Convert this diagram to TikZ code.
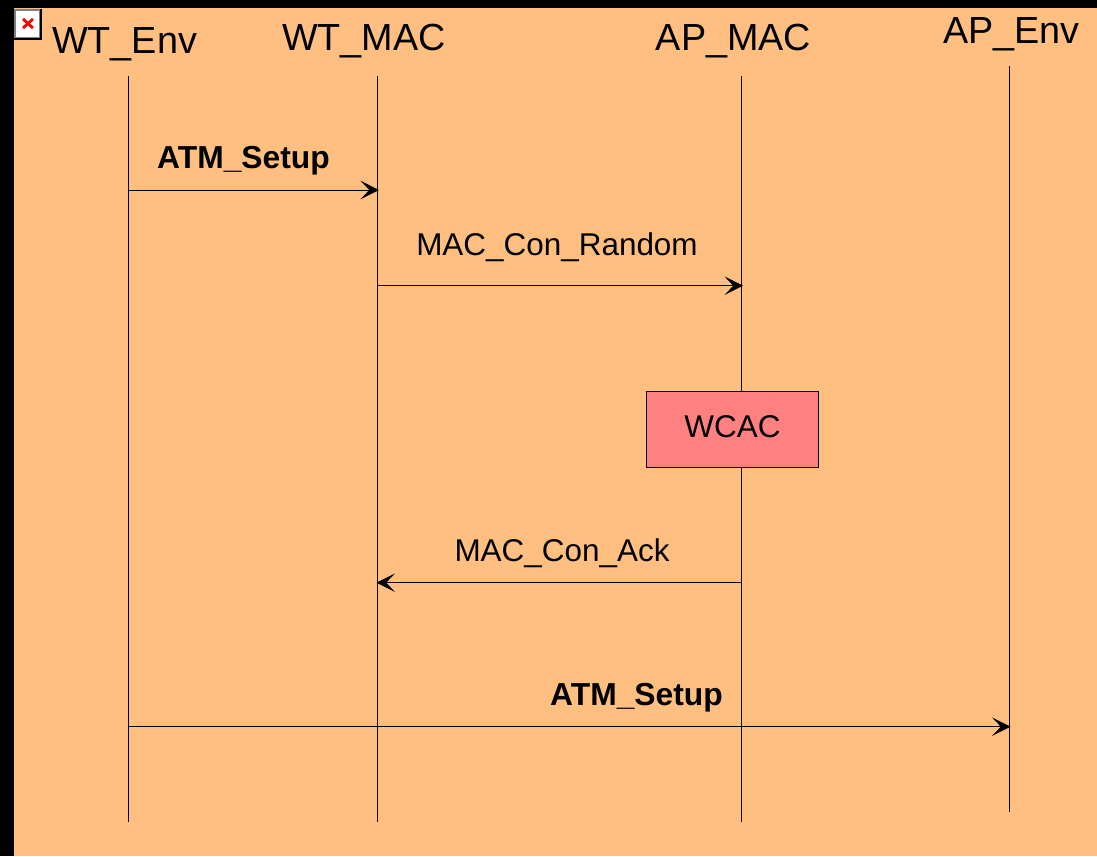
\documentclass[tikz,border=0pt]{standalone}
\usepackage{fontspec}
\setmainfont{Liberation Sans}
\usetikzlibrary{arrows.meta}
\definecolor{bgorange}{HTML}{FFBF80}
\definecolor{boxred}{HTML}{FF8080}
\tikzset{
  lifeline/.style={line width=0.42pt},
  msg/.style={line width=0.42pt,-{Stealth[length=10.5pt,width=10.5pt,inset=5pt]}},
  headlabel/.style={anchor=base,inner sep=0pt,font=\fontsize{21.5}{24}\selectfont},
  msglabel/.style={anchor=base,inner sep=0pt,font=\fontsize{17.9}{21}\selectfont},
  boldlabel/.style={msglabel,font=\fontsize{18.1}{21}\selectfont\bfseries},
  procbox/.style={draw,fill=boxred,line width=0.42pt,inner sep=0pt,text depth=3.4pt,minimum width=172*0.02cm,minimum height=76*0.02cm,font=\fontsize{17.9}{21}\selectfont}
}
\begin{document}
\begin{tikzpicture}[x=0.02cm,y=-0.02cm]
\useasboundingbox (0,0) rectangle (1097,856);
\fill[black] (0,0) rectangle (1097,856);
\fill[bgorange] (14,8) rectangle (1097,856);
% broken image icon
\fill[black] (14,9) rectangle (42,40);
\fill[white,draw=gray,line width=1pt] (15,10) rectangle (39.5,37.5);
\draw[red,line width=1.6pt] (23,19) -- (33,28);
\draw[red,line width=1.6pt] (33,19) -- (23,28);
% headers
\node[headlabel] (wtenv) at (124.5,53) {WT\_Env};
\node[headlabel] (wtmac) at (364,50) {WT\_MAC};
\node[headlabel] (apmac) at (733.5,50) {AP\_MAC};
\node[headlabel] (apenv) at (1011.5,43) {AP\_Env};
% lifelines
\coordinate (wtenvtop) at (128.5,76);
\coordinate (wtenvbot) at (128.5,822);
\coordinate (wtmactop) at (377.5,76);
\coordinate (wtmacbot) at (377.5,822);
\coordinate (apmactop) at (741.7,76);
\coordinate (apmacbot) at (741.7,822);
\coordinate (apenvtop) at (1009.5,66);
\coordinate (apenvbot) at (1009.5,812);
\draw[lifeline] (wtenvtop) -- (wtenvbot);
\draw[lifeline] (wtmactop) -- (wtmacbot);
\draw[lifeline] (apmactop) -- (apmacbot);
\draw[lifeline] (apenvtop) -- (apenvbot);
% messages
\coordinate (a1) at (128.5,190);
\coordinate (b1) at (379,190);
\coordinate (b2) at (377.5,285.7);
\coordinate (c2) at (743,285.7);
\coordinate (c3) at (741.7,582.7);
\coordinate (b3) at (376.5,582.7);
\coordinate (a4) at (128.5,726.7);
\coordinate (d4) at (1010.5,726.7);
\draw[msg] (a1) -- (b1);
\draw[msg] (b2) -- (c2);
\draw[msg] (c3) -- (b3);
\draw[msg] (a4) -- (d4);
\node[boldlabel] (setupa) at (243.5,168) {ATM\_Setup};
\node[msglabel] (random) at (557,255) {MAC\_Con\_Random};
\node[msglabel] (ack) at (562,561) {MAC\_Con\_Ack};
\node[boldlabel] (setupb) at (636.5,705) {ATM\_Setup};
\node[procbox] (wcac) at (732.5,429.5) {WCAC};
\end{tikzpicture}
\end{document}
